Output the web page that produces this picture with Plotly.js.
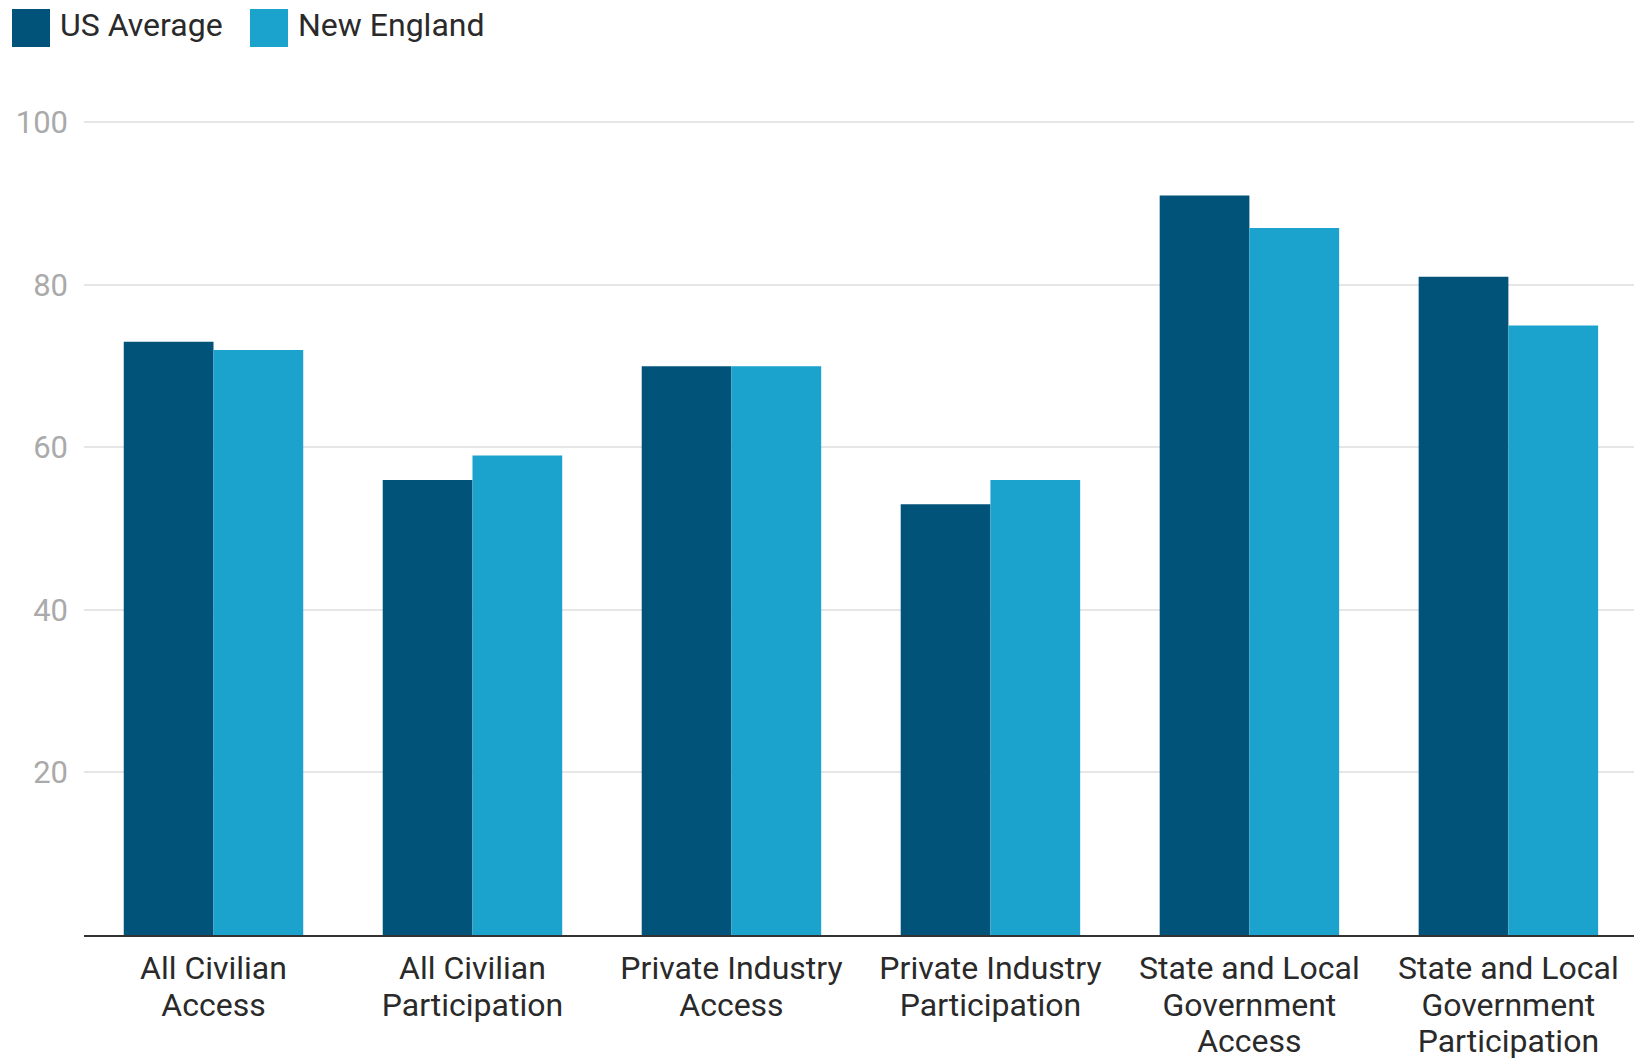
<!DOCTYPE html>
<html>
<head>
<meta charset="utf-8">
<script src="https://cdn.plot.ly/plotly-3.0.1.min.js"></script>
<style>html,body{margin:0;padding:0;background:#fff;}#chart{width:1634px;height:1064px;}</style>
</head>
<body>
<div id="chart"></div>
<script>
const categories = [
  "All Civilian<br>Access",
  "All Civilian<br>Participation",
  "Private Industry<br>Access",
  "Private Industry<br>Participation",
  "State and Local<br>Government<br>Access",
  "State and Local<br>Government<br>Participation"
];
const usAverage = [73, 56, 70, 53, 91, 81];
const newEngland = [72, 59, 70, 56, 87, 75];
const seriesNames = ["US Average", "New England"];
const yTicks = [20, 40, 60, 80, 100];

const colors = ["#02537A", "#1BA2CD"];
const W = 1634, H = 1064;
const M = {l: 84, r: 0, t: 120, b: 129};
const pw = W - M.l - M.r;
const ph = H - M.t - M.b;
const px2x = p => (p - M.l) / pw;
const px2y = p => (H - M.b - p) / ph;

// wrap each line in a larger span so that line spacing stays tight
const tickText = categories.map(c =>
  c.split("<br>").map(l => '<span style="font-size:32px">' + l + '</span>').join("<br>")
);

const traces = [usAverage, newEngland].map((vals, i) => ({
  type: "bar",
  name: seriesNames[i],
  x: categories,
  y: vals,
  marker: {color: colors[i], line: {width: 0}},
  showlegend: false,
  hoverinfo: "x+y+name"
}));

// custom legend (large squares)
const legendItems = [
  {sq: [12, 50], textX: 58},
  {sq: [250, 288], textX: 296}
];
const shapes = [];
const annotations = [];
legendItems.forEach((it, i) => {
  shapes.push({
    type: "rect", xref: "paper", yref: "paper",
    x0: px2x(it.sq[0]), x1: px2x(it.sq[1]),
    y0: px2y(47), y1: px2y(9),
    fillcolor: colors[i], line: {width: 0}
  });
  annotations.push({
    xref: "paper", yref: "paper",
    x: px2x(it.textX), y: px2y(25),
    xanchor: "left", yanchor: "middle",
    text: seriesNames[i], showarrow: false,
    font: {family: "Roboto, sans-serif", size: 32, color: "#2a2a2a"}
  });
});

const layout = {
  width: W, height: H,
  margin: M,
  paper_bgcolor: "#ffffff",
  plot_bgcolor: "#ffffff",
  barmode: "group",
  bargap: 0.307,
  bargroupgap: 0,
  font: {family: "Roboto, sans-serif"},
  xaxis: {
    type: "category",
    range: [-0.5, 5.485],
    tickmode: "array",
    tickvals: categories,
    ticktext: tickText,
    showline: true, linecolor: "#333333", linewidth: 2,
    showgrid: false, zeroline: false,
    ticks: "",
    ticklabelstandoff: 8,
    tickfont: {family: "Roboto, sans-serif", size: 28.2, color: "#2a2a2a"},
    tickangle: 0,
    fixedrange: true
  },
  yaxis: {
    range: [0, 100.3],
    tickvals: yTicks,
    ticktext: yTicks.map(String),
    showgrid: true, gridcolor: "#e6e6e6", gridwidth: 2,
    zeroline: false, showline: false,
    ticks: "",
    ticklabelstandoff: 15,
    tickfont: {family: "Roboto, sans-serif", size: 31, color: "#aaaaaa"},
    fixedrange: true
  },
  shapes: shapes,
  annotations: annotations,
  showlegend: false
};

Plotly.newPlot("chart", traces, layout, {displayModeBar: false, staticPlot: true});
</script>
</body>
</html>
